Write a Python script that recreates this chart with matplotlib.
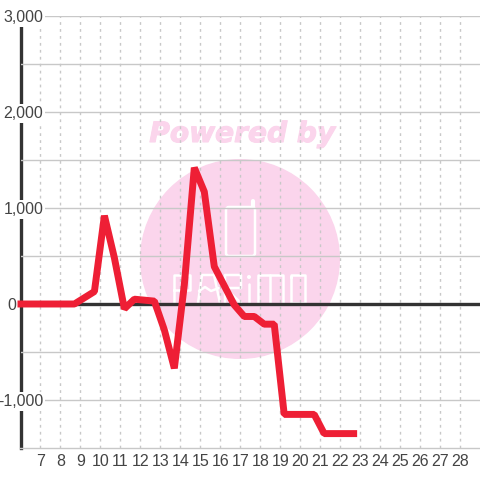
## line chart with a pink watermark behind it
import matplotlib
matplotlib.use('Agg')
import matplotlib.pyplot as plt
import matplotlib.patches as patch
import matplotlib.patheffects as pe

days = [5.85, 8.7, 9.7, 10.2, 10.7, 11.2, 11.7, 12.2, 12.7, 13.2, 13.7, 14.2, 14.7, 15.2, 15.7,
        16.2, 16.7, 17.2, 17.7, 18.2, 18.7, 19.2, 19.7, 20.2, 20.7, 21.2, 21.7, 22.2, 22.85]
values = [0, 0, 130, 920, 480, -50, 50, 40, 30, -270, -670, 200, 1420, 1170, 390,
          190, -10, -130, -130, -210, -210, -1150, -1150, -1150, -1150, -1350, -1350, -1350, -1350]
xTicks = list(range(7, 29))
yTicks = [-1000, -500, 0, 500, 1000, 1500, 2000, 2500, 3000]
yLabels = ['-1,000', '', '0', '', '1,000', '', '2,000', '', '3,000']

plt.rcParams['font.family'] = ['Liberation Sans', 'DejaVu Sans']
PINK = '#fbd5ec'
GRID = '#c8c8c8'
TEXT = '#444444'

fig = plt.figure(figsize=(4.8, 4.8), dpi=100)

#-----watermark sits in its own axes, in pixel coords
wm = fig.add_axes([0, 0, 1, 1], zorder=0)
wm.set_xlim(0, 480)
wm.set_ylim(480, 0)
wm.axis('off')
wm.add_patch(patch.Circle((240, 259), 100, fc=PINK, ec='none'))
wm.text(242, 134, 'Powered by', color=PINK, fontsize=20.2, family='DejaVu Sans',
        weight='bold', style='oblique', ha='center', va='center',
        path_effects=[pe.withStroke(linewidth=0.8, foreground=PINK)])
wm.add_patch(patch.FancyBboxPatch((226, 207), 29, 49, boxstyle='round,pad=0,rounding_size=3',
                                  fc='none', ec='white', lw=1.8))
wm.plot([253, 253], [207, 201], color='white', lw=3, solid_capstyle='round')

#-----logo letters drawn as strokes, it isnt really a font
logoStrokes = [
    [(174, 303), (174, 275), (190, 275), (190, 290), (174, 290)],  # P
    [(198, 303), (202, 275), (214, 275), (220, 303)],  # A
    [(199, 291), (205, 287), (211, 291), (219, 288)],
    [(225, 303), (225, 275), (241, 275), (241, 288), (225, 288), (241, 303)],  # R
    [(249, 284), (249, 303)],  # i
    [(258, 303), (258, 275), (283, 275), (283, 303)],  # M
    [(270, 275), (270, 303)],
    [(291, 277), (291, 303), (305, 303), (305, 275), (291, 275), (291, 277)],  # O
]
for stroke in logoStrokes:
    wm.plot([p[0] for p in stroke], [p[1] for p in stroke], color='white', lw=1.8,
            solid_joinstyle='round', solid_capstyle='round')
wm.add_patch(patch.Circle((249, 277), 2, fc='white', ec='none'))

#-----main chart
ax = fig.add_axes([20.5 / 480, 32 / 480, 459.5 / 480, 432 / 480], zorder=1)
ax.patch.set_alpha(0)
ax.set_axisbelow(False)  # labels need to sit over the spine
ax.set_xlim(6, 29)
ax.set_ylim(-1500, 3000)
ax.set_xticks(xTicks)
ax.set_yticks(yTicks)
ax.set_yticklabels(yLabels)
ax.grid(axis='x', color=GRID, lw=1, linestyle=(0, (2, 3)))
ax.grid(axis='y', color=GRID, lw=1)
ax.tick_params(axis='x', length=0, labelsize=11.5, labelcolor=TEXT, pad=4)
ax.tick_params(axis='y', length=0, labelsize=11.5, labelcolor=TEXT, pad=-16.5)
for tick, label in zip(ax.yaxis.get_major_ticks(), ax.get_yticklabels()):
    label.set_bbox(dict(fc='white', ec='none', pad=1.5))
    if label.get_text() == '0':
        tick.set_pad(3)

ax.spines['top'].set_visible(False)
ax.spines['right'].set_visible(False)
ax.spines['left'].set_color('#333333')
ax.spines['left'].set_linewidth(2.4)
ax.spines['left'].set_zorder(2.4)
ax.spines['bottom'].set_color(GRID)
ax.spines['bottom'].set_linewidth(1)
ax.spines['bottom'].set_zorder(2.4)

ax.axhline(0, color='#333333', lw=2.4, zorder=2.6)
ax.plot(days, values, color='#ee1f35', lw=5, solid_joinstyle='bevel',
        solid_capstyle='butt', zorder=3, clip_on=False)

plt.savefig('out.png', dpi=100)
